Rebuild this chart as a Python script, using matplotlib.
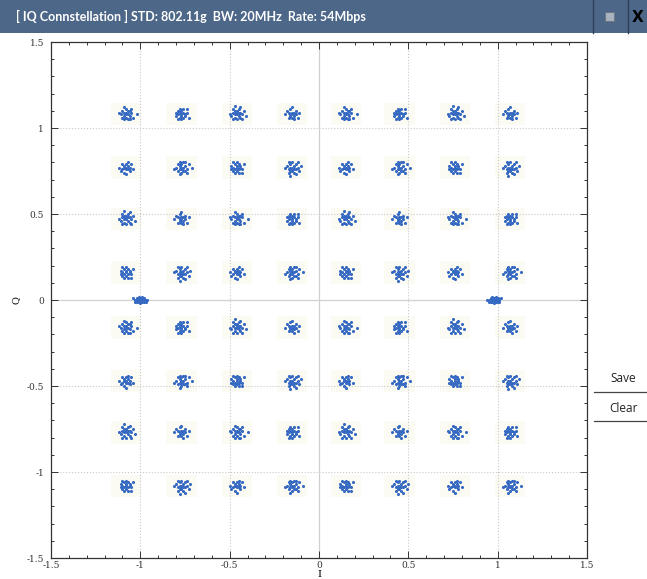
import matplotlib.pyplot as plt
from matplotlib.patches import Rectangle
from matplotlib.lines import Line2D
from matplotlib.ticker import MultipleLocator, FormatStrFormatter
import numpy as np

# Constellation grid levels (I columns and Q rows)
i_levels = [-1.08, -0.77, -0.46, -0.15, 0.15, 0.45, 0.76, 1.07]
q_levels = [1.08, 0.77, 0.47, 0.16, -0.16, -0.47, -0.77, -1.08]

# Pilot clusters near the I axis
pilot_i = [-1.00, 0.98]
pilot_q = [0.00, 0.00]

# Scatter spread of the points around each cluster centre (x0.01), hand read
spread_a = [(0, 0), (1, 2), (-1, 1), (2, -1), (-2, -2), (0, 3), (3, 1), (-3, 0), (1, -3),
            (-1, -1), (2, 2), (0, -2), (-2, 2), (4, -2), (-1, 4), (1, 0), (-4, 1), (2, -3),
            (0, 1), (-1, -3), (3, 3), (6, 0)]
spread_b = [(0, 0), (-1, 1), (1, 1), (2, 0), (-2, 0), (0, -1), (1, -2), (-1, -2), (3, -1),
            (-3, 1), (0, 2), (2, 2), (-2, -1), (1, 3), (-1, 3), (3, 1), (0, -3), (-4, -2),
            (2, -3), (-3, 3)]
spread_c = [(0, 0), (1, 1), (-1, 0), (1, -1), (2, 1), (-2, 1), (0, 2), (-1, -2), (3, 0),
            (-3, -1), (2, -2), (1, 3), (-2, 3), (0, -3), (4, 2), (-4, 0), (2, 4), (-1, 5),
            (3, -3), (-2, -3), (5, -1), (0, 1), (-1, 2)]
spread_d = [(0, 0), (1, 0), (0, 1), (-1, 1), (1, -1), (-2, 0), (2, 1), (0, -2), (-1, -1),
            (2, -2), (-2, 2), (3, 2), (-3, -2), (1, 3), (-1, -3), (4, 0), (-4, 1), (0, 4)]
spreads = [spread_a, spread_b, spread_c, spread_d]

# Pilot blob is wider and flatter
pilot_spread = [(0, 0), (1, 0), (-1, 0), (2, 1), (-2, 1), (3, 0), (-3, 0), (1, -1), (-1, -1),
                (2, -1), (-2, -1), (0, 1), (0, -1), (4, 0), (-4, 1), (3, -1), (-3, -1),
                (1, 2), (-1, 2), (2, 0), (-2, 0), (0, -2), (1, 1), (-1, 1)]

dot_color = '#3569c2'

plt.rcParams['axes.unicode_minus'] = False

fig = plt.figure(figsize=(6.47, 5.79), dpi=100)
fig.patch.set_facecolor('white')

# Window title bar
bar_h = 33 / 579
fig.add_artist(Rectangle((0, 1 - bar_h), 1, bar_h, transform=fig.transFigure,
                         facecolor='#4d6788', edgecolor='none'))
fig.text(16 / 647, 1 - 16 / 579, '[ IQ Connstellation ] STD: 802.11g  BW: 20MHz  Rate: 54Mbps',
         color='white', fontsize=9, fontweight='bold', family='Lato', va='center', ha='left')
for xs in [593 / 647, 628 / 647]:
    fig.add_artist(Line2D([xs, xs], [1 - bar_h, 1], transform=fig.transFigure, color='#2f3f55', lw=1))
fig.add_artist(Rectangle((605 / 647, 1 - 21 / 579), 9 / 647, 9 / 579, transform=fig.transFigure,
                         facecolor='#aab4c0', edgecolor='#6d7886', lw=0.8))
fig.text(638 / 647, 1 - 17 / 579, 'X', color='black', fontsize=11, fontweight='bold',
         family='DejaVu Sans', ha='center', va='center')

# Save / Clear buttons on the right
fig.text(623 / 647, 1 - 379 / 579, 'Save', fontsize=8.5, family='Open Sans', ha='center', va='center', color='#222222')
fig.add_artist(Line2D([594 / 647, 1], [1 - 392 / 579] * 2, transform=fig.transFigure, color='#444444', lw=0.9))
fig.text(623 / 647, 1 - 409 / 579, 'Clear', fontsize=8.5, family='Open Sans', ha='center', va='center', color='#222222')
fig.add_artist(Line2D([594 / 647, 1], [1 - 421 / 579] * 2, transform=fig.transFigure, color='#444444', lw=0.9))

ax = fig.add_axes([51 / 647, 21 / 579, 536 / 647, 516 / 579])

# Faint backdrop behind each cluster
for q in q_levels:
    for i in i_levels:
        ax.add_patch(Rectangle((i - 0.085, q - 0.065), 0.17, 0.13, facecolor='#fcfbf3',
                               edgecolor='none', zorder=0))

# Data points of each QAM cluster
xs, ys = [], []
for r, q in enumerate(q_levels):
    for c, i in enumerate(i_levels):
        pat = spreads[(r * 3 + c) % 4]
        sx = 1 if (r + c) % 2 == 0 else -1
        sy = 1 if r % 2 == 0 else -1
        for dx, dy in pat:
            xs.append(i + sx * dx * 0.01)
            ys.append(q + sy * dy * 0.01)
for k, (i, q) in enumerate(zip(pilot_i, pilot_q)):
    sx = 1 if k == 0 else -1
    for dx, dy in pilot_spread:
        xs.append(i + sx * dx * 0.01)
        ys.append(q + dy * 0.01)

ax.scatter(xs, ys, s=5, color=dot_color, linewidths=0, zorder=3)

# Grid: dotted at +-0.5, +-1, solid at 0
for v in [-1, -0.5, 0.5, 1]:
    ax.axvline(v, color='#c8c8c8', lw=0.8, ls=':', zorder=1)
    ax.axhline(v, color='#c8c8c8', lw=0.8, ls=':', zorder=1)
ax.axvline(0, color='#d0d0d0', lw=0.9, zorder=1)
ax.axhline(0, color='#d0d0d0', lw=0.9, zorder=1)

ax.set_xlim(-1.5, 1.5)
ax.set_ylim(-1.5, 1.5)
ax.xaxis.set_major_locator(MultipleLocator(0.5))
ax.yaxis.set_major_locator(MultipleLocator(0.5))
ax.xaxis.set_major_formatter(FormatStrFormatter('%g'))
ax.yaxis.set_major_formatter(FormatStrFormatter('%g'))
ax.xaxis.set_minor_locator(MultipleLocator(0.1))
ax.yaxis.set_minor_locator(MultipleLocator(0.1))
ax.tick_params(which='both', direction='in', top=True, right=True, width=0.7, color='#333333')
ax.tick_params(which='major', length=5, labelsize=6.5, labelcolor='#333333')
ax.tick_params(axis='x', which='major', pad=2)
ax.tick_params(axis='y', which='major', pad=5)
ax.tick_params(which='minor', length=2.5)
for lab in ax.get_xticklabels() + ax.get_yticklabels():
    lab.set_family('DejaVu Serif')
for sp in ax.spines.values():
    sp.set_color('#333333')
    sp.set_linewidth(0.9)

ax.set_xlabel('I', fontsize=7, family='DejaVu Serif', labelpad=0)
ax.set_ylabel('Q', fontsize=7, family='DejaVu Serif', labelpad=4)

plt.savefig('out.png', dpi=100)
